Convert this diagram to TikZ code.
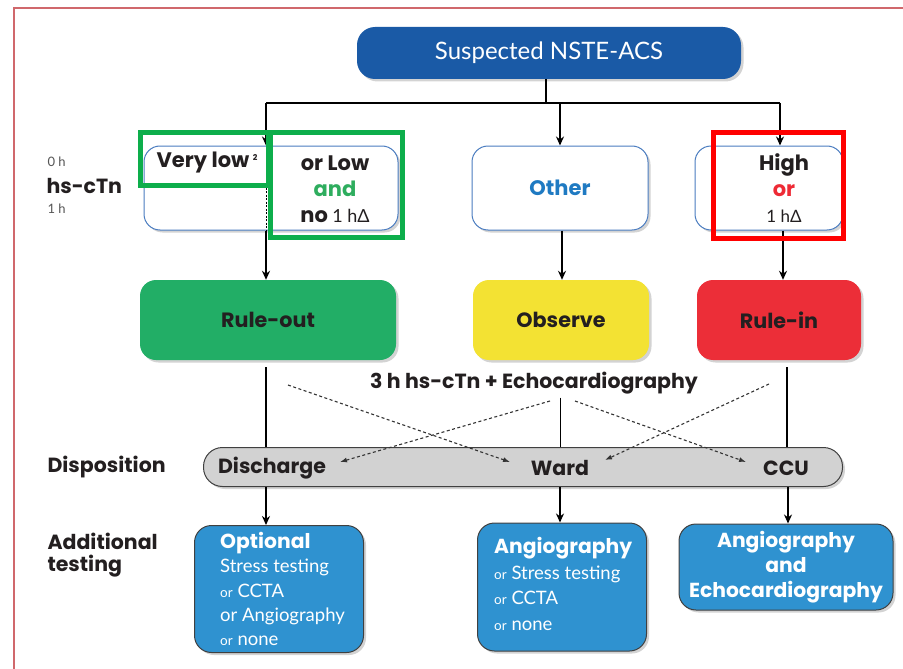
\documentclass[tikz,border=0pt]{standalone}
\usepackage{fontspec}
\setmainfont{Lato}
\newfontfamily\popfam{Poppins}
\newcommand\popb{\popfam\bfseries}
\usetikzlibrary{arrows.meta,shadows}
\definecolor{framecol}{HTML}{D0686C}
\definecolor{topblue}{HTML}{1A5AA6}
\definecolor{wbord}{HTML}{4A7CC0}
\definecolor{rgreen}{HTML}{22AE66}
\definecolor{ryellow}{HTML}{F3E233}
\definecolor{rred}{HTML}{EC2E38}
\definecolor{barg}{HTML}{D2D2D2}
\definecolor{bblue}{HTML}{2F92D0}
\definecolor{hlgreen}{HTML}{0DAE4B}
\definecolor{hlred}{HTML}{FF0000}
\definecolor{othblue}{HTML}{1F7AC2}
\definecolor{andgreen}{HTML}{2EAD5E}
\definecolor{orred}{HTML}{EE2A35}
\definecolor{ink}{HTML}{231F20}
\definecolor{labgray}{HTML}{555555}
\tikzset{
  shad/.style={drop shadow={opacity=0.35,shadow xshift=2.5pt,shadow yshift=-2.5pt}},
  whitebox/.style={draw=wbord, line width=1pt, fill=white, rounded corners=16pt, shad},
  colbox/.style={rounded corners=16pt, shad, text=ink, font=\fontsize{20.7}{24}\popb},
  bluebox/.style={draw=black!75, line width=1pt, fill=bblue, rounded corners=17pt, shad, text=white},
  hlbox/.style={draw, line width=5pt},
  conn/.style={line width=2pt},
  arr/.style={conn, -{Stealth[length=9pt,width=8pt]}},
  darr/.style={line width=1.1pt, black!80, dash pattern=on 3pt off 2.5pt, -{Latex[length=7pt,width=5pt]}},
  sidelab/.style={anchor=west, text=ink, font=\fontsize{20.5}{24}\popb},
  bigt/.style={font=\fontsize{21}{26}\popb, text=ink, align=center},
  disptxt/.style={text=ink, font=\fontsize{20.5}{24}\popb},
}
\begin{document}
\begin{tikzpicture}[x=1pt,y=-1pt]
\useasboundingbox (0,0) rectangle (903,669);
\draw[framecol, line width=1.5pt] (903,8) -- (14,8) -- (14,669);

% top
\node[fill=topblue, rounded corners=18pt, shad, minimum width=384pt, minimum height=52pt, text=white, font=\fontsize{24}{28}\selectfont] (top) at (549,53) {Suspected NSTE-ACS};

% column coordinates
\coordinate (jt) at (546,103);
\coordinate (jl) at (266,103);
\coordinate (jm) at (560,103);
\coordinate (jr) at (780,103);

% row 2
\node[whitebox, minimum width=254pt, minimum height=84pt] (low) at (271,188) {};
\node[whitebox, minimum width=176pt, minimum height=84pt, text=othblue, font=\fontsize{21}{24}\popb] (other) at (560,188) {Other};
\node[whitebox, minimum width=148pt, minimum height=84pt] (high) at (769,188) {};
\node[bigt] (vlow) at (207,163) {Very low\,\raisebox{0.6ex}{\fontsize{8}{8}\selectfont 2}};
\node[bigt] (orlow) at (335,189) {or Low\\\textcolor{andgreen}{and}\\no {\fontsize{18}{26}\mdseries\rmfamily 1 hΔ}};
\node[bigt] (hightxt) at (784,188) {High\\\textcolor{orred}{or}\\{\fontsize{17}{26}\mdseries\rmfamily 1 hΔ}};
\draw[dash pattern=on 2pt off 1.5pt, line width=0.8pt] (low.north -| jl) -- (low.south -| jl);

% connectors top
\draw[conn] (top.south -| jt) -- (jt);
\draw[conn] (jl) -- (jr);
\draw[arr] (jl) -- (low.north -| jl);
\draw[arr] (jm) -- (other.north -| jm);
\draw[arr] (jr) -- (high.north -| jr);

% side labels row 2
\node[anchor=west, text=labgray, font=\fontsize{13}{15}\selectfont] (h0) at (44,162) {0 h};
\node[sidelab] (hs) at (43,186) {hs-cTn};
\node[anchor=west, text=labgray, font=\fontsize{13}{15}\selectfont] (h1) at (44,209) {1 h};

% row 3
\node[colbox, fill=rgreen, minimum width=256pt, minimum height=80pt] (rout) at (268,320) {Rule-out};
\node[colbox, fill=ryellow, minimum width=176pt, minimum height=80pt] (obs) at (561,320) {Observe};
\node[colbox, fill=rred, minimum width=164pt, minimum height=80pt] (rin) at (779,320) {Rule-in};
\draw[arr] (low.south -| jl) -- (rout.north -| jl);
\draw[arr] (other.south -| 562,0) -- (obs.north -| 562,0);
\draw[arr] (high.south -| 783,0) -- (rin.north -| 783,0);

\node[text=ink, font=\fontsize{20.5}{24}\popb] (echo) at (534,383) {3 h hs-cTn + Echocardiography};

% disposition bar
\node[draw=black!75, line width=1pt, fill=barg, rounded corners=19pt, shad, minimum width=639pt, minimum height=39pt] (bar) at (523,467) {};
\node[disptxt] (dis) at (272,468) {Discharge};
\node[disptxt] (ward) at (560,468) {Ward};
\node[disptxt] (ccu) at (786,468) {CCU};
\node[sidelab] (displab) at (44,467) {Disposition};

\draw[conn] ([yshift=-7pt]rout.south -| jl) -- (bar.north -| jl);
\draw[conn] ([yshift=-7pt]rin.south -| 787,0) -- (bar.north -| 787,0);
\draw[line width=1pt] (echo.south -| 560,0) -- (bar.north -| 560,0);

% dashed arrows
\coordinate (d1s) at (288,385); \coordinate (d1e) at (510,462);
\coordinate (d2s) at (550,401); \coordinate (d2e) at (340,462);
\coordinate (d3s) at (575,401); \coordinate (d3e) at (746,462);
\coordinate (d4s) at (769,384); \coordinate (d4e) at (605,460);
\draw[darr] (d1s) -- (d1e);
\draw[darr] (d2s) -- (d2e);
\draw[darr] (d3s) -- (d3e);
\draw[darr] (d4s) -- (d4e);

% bottom boxes
\node[bluebox, minimum width=169pt, minimum height=127pt] (opt) at (279,589) {};
\node[text=white, align=left, anchor=west, inner sep=0pt, font=\fontsize{18.5}{24.3}\selectfont] (opttxt) at (220,589)
 {{\fontsize{20.3}{24.3}\popb Optional}\\
  Stress testing\\
  {\fontsize{13.5}{24.3}\selectfont or} CCTA\\
  or Angiography\\
  {\fontsize{13.5}{24.3}\selectfont or} none};
\node[bluebox, minimum width=169pt, minimum height=128pt] (ang) at (562,587) {};
\node[text=white, align=left, anchor=west, inner sep=0pt, font=\fontsize{18.5}{25.5}\selectfont] (angtxt) at (494,584)
 {{\fontsize{20.3}{25.5}\popb Angiography}\\
  {\fontsize{13.5}{25.5}\selectfont or} Stress testing\\
  {\fontsize{13.5}{25.5}\selectfont or} CCTA\\
  {\fontsize{13.5}{25.5}\selectfont or} none};
\node[bluebox, minimum width=214pt, minimum height=86pt, align=center, font=\fontsize{20.3}{25}\popb] (ae) at (786,567)
 {Angiography\\and\\Echocardiography};

\draw[arr] (bar.south -| jl) -- (opt.north -| jl);
\draw[arr] (bar.south -| 560,0) -- (ang.north -| 560,0);
\draw[arr] (bar.south -| 788,0) -- (ae.north -| 788,0);

\node[sidelab] (add) at (44,541) {Additional};
\node[sidelab] (tst) at (44,566) {testing};

% highlight rectangles
\node[hlbox, draw=hlgreen, minimum width=128pt, minimum height=53pt] (g1) at (204,158.5) {};
\node[hlbox, draw=hlgreen, minimum width=132pt, minimum height=105pt] (g2) at (336,184.5) {};
\node[hlbox, draw=hlred, minimum width=130pt, minimum height=106pt] (r1) at (778,185) {};
\end{tikzpicture}
\end{document}
